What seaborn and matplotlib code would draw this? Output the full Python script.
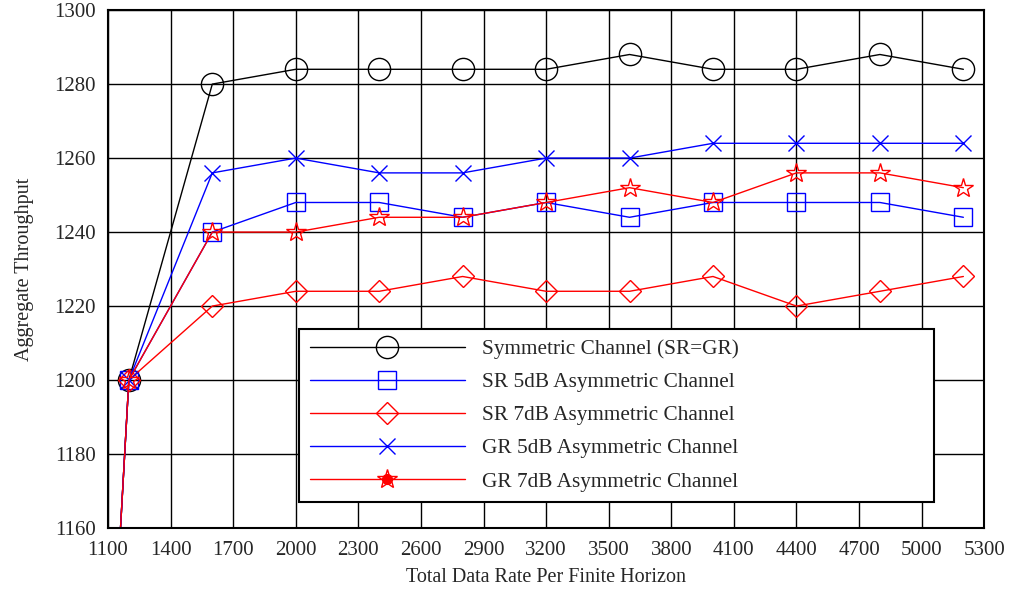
import pandas as pd
import numpy as np
import seaborn as sns
import matplotlib.pyplot as plt
from matplotlib.lines import Line2D

# data rates (x) and aggregate throughput per channel setting
rate = [0, 1200, 1600, 2000, 2400, 2800, 3200, 3600, 4000, 4400, 4800, 5200]
symmetric = [0, 1200, 1280, 1284, 1284, 1284, 1284, 1288, 1284, 1284, 1288, 1284]
sr_5db = [0, 1200, 1240, 1248, 1248, 1244, 1248, 1244, 1248, 1248, 1248, 1244]
sr_7db = [0, 1200, 1220, 1224, 1224, 1228, 1224, 1224, 1228, 1220, 1224, 1228]
gr_5db = [0, 1200, 1256, 1260, 1256, 1256, 1260, 1260, 1264, 1264, 1264, 1264]
gr_7db = [0, 1200, 1240, 1240, 1244, 1244, 1248, 1252, 1248, 1256, 1256, 1252]

labels = ['Symmetric Channel (SR=GR)', 'SR 5dB Asymmetric Channel',
          'SR 7dB Asymmetric Channel', 'GR 5dB Asymmetric Channel',
          'GR 7dB Asymmetric Channel']
xticks = list(range(1100, 5301, 300))
yticks = list(range(1160, 1301, 20))


def plot_throughput():
    ''' line plot of aggregate throughput vs total data rate '''

    sns.set_style('white')
    plt.rcParams['font.family'] = ['Liberation Serif', 'DejaVu Serif']

    fig = plt.figure(figsize=(10.13, 5.94), dpi=100)
    ax = fig.add_axes([0.1066, 0.111, 0.865, 0.872])

    series = [symmetric, sr_5db, sr_7db, gr_5db, gr_7db]
    colors = ['black', 'blue', 'red', 'blue', 'red']
    markers = ['o', 's', 'D', 'x', '*']
    sizes = [16, 13, 11, 12, 15]

    for vals, lab, c, m, ms in zip(series, labels, colors, markers, sizes):
        df = pd.DataFrame({'rate': rate, 'tput': vals})
        sns.lineplot(data=df, x='rate', y='tput', ax=ax, color=c, marker=m,
                     markersize=ms, markerfacecolor='none', markeredgecolor=c,
                     markeredgewidth=1.0, linewidth=1.0, label=lab)

    ax.set_xlim(1100, 5300)
    ax.set_ylim(1160, 1300)
    ax.set_xticks(xticks)
    ax.set_yticks(yticks)
    ax.tick_params(labelsize=15, direction='in', length=4)
    ax.tick_params(axis='x', pad=9)
    ax.tick_params(axis='y', pad=9)
    ax.grid(True, color='black', linewidth=1.0)
    for s in ax.spines.values():
        s.set_color('black')
        s.set_linewidth(1.5)

    ax.set_xlabel('Total Data Rate Per Finite Horizon', fontsize=14.5, labelpad=6)
    ax.set_ylabel('Aggregate Throughput', fontsize=14.5, labelpad=14)

    # legend: star handle of the last series also shows a filled dot
    handles, labs = ax.get_legend_handles_labels()
    dot = Line2D([], [], color='red', marker='o', markersize=7, linestyle='none')
    handles[-1] = (handles[-1], dot)

    leg = ax.legend(handles, labs, loc='lower left',
                    bbox_to_anchor=(0.218, 0.05, 0.725, 0.338),
                    mode='expand', borderaxespad=0, fontsize=15.3,
                    handlelength=7.3, labelspacing=0.62, borderpad=0.5,
                    handletextpad=0.8, frameon=True, fancybox=False,
                    framealpha=1)
    leg.get_frame().set_edgecolor('black')
    leg.get_frame().set_linewidth(1.5)

    fig.savefig('out.png', dpi=100)


plot_throughput()
